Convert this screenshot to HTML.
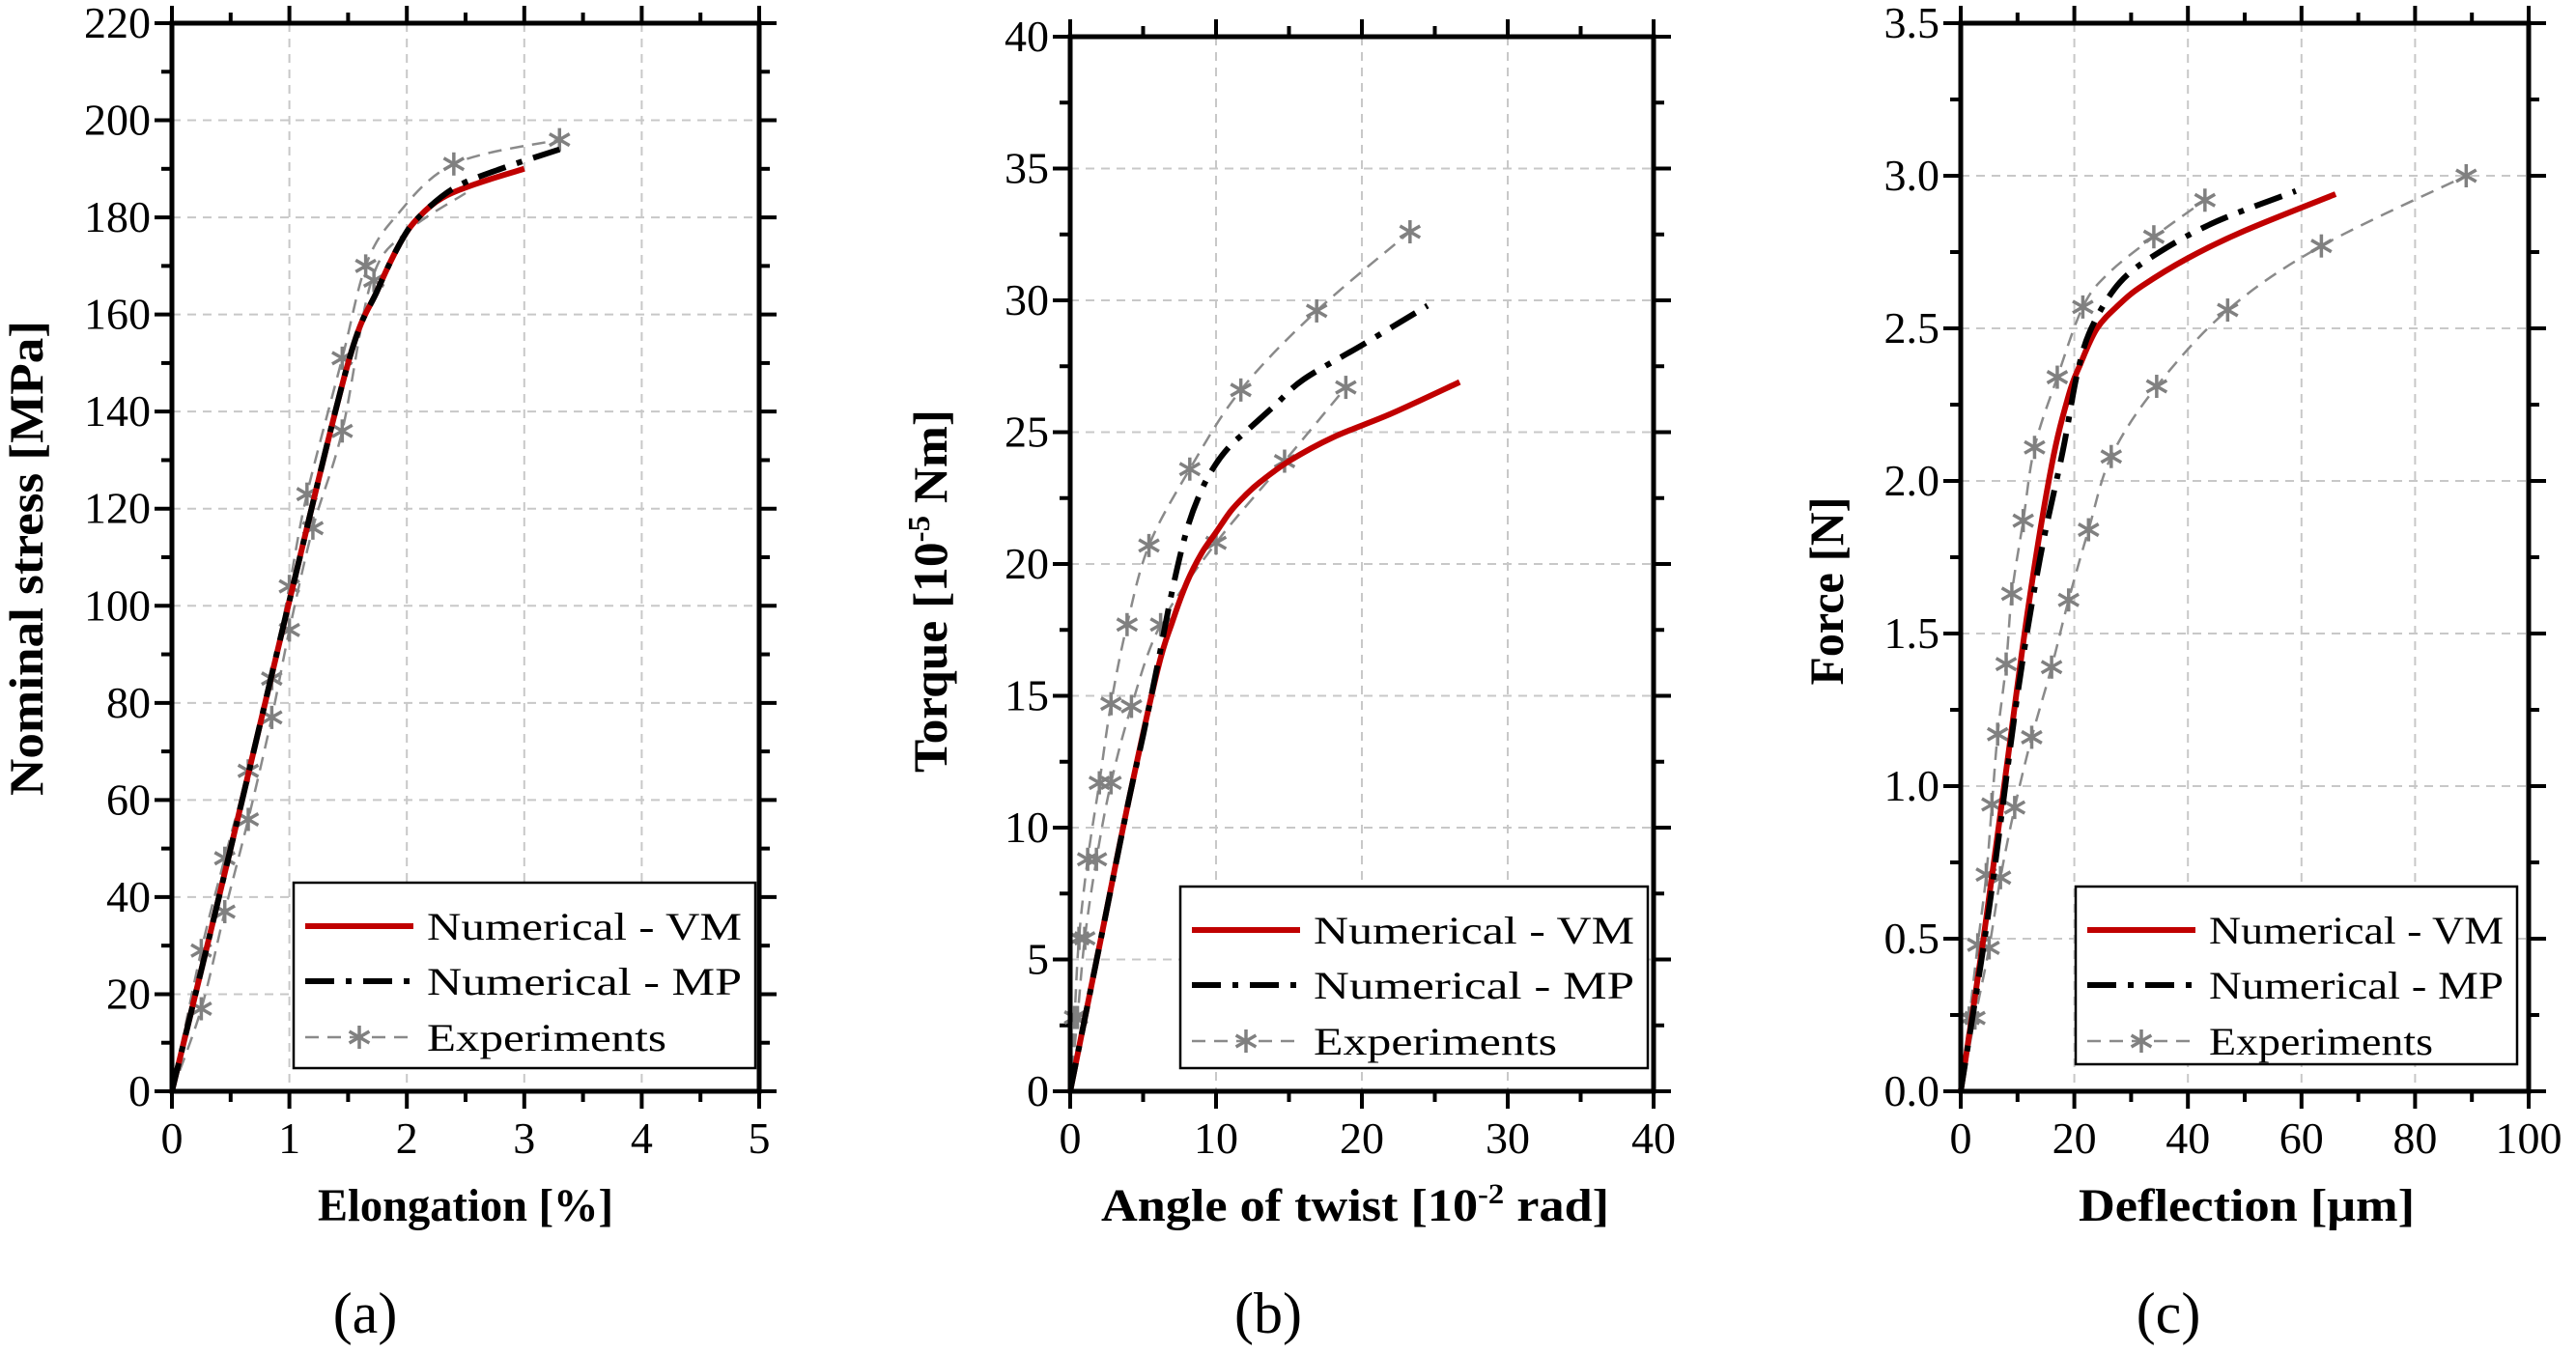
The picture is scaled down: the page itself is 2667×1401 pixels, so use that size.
<!DOCTYPE html>
<html><head><meta charset="utf-8"><style>
html,body{margin:0;padding:0;background:#fff}
svg{display:block}
text{font-family:"Liberation Serif",serif}
</style></head><body>
<svg id="s" width="2667" height="1401" viewBox="0 0 2667 1401" xmlns="http://www.w3.org/2000/svg"></svg>
<script>
const S=document.getElementById('s');let h='';
function smooth(P){let d=`M${P[0][0].toFixed(1)},${P[0][1].toFixed(1)}`;
 for(let i=0;i<P.length-1;i++){const p0=P[Math.max(0,i-1)],p1=P[i],p2=P[i+1],p3=P[Math.min(P.length-1,i+2)];
  const c1=[p1[0]+(p2[0]-p0[0])/6,p1[1]+(p2[1]-p0[1])/6],c2=[p2[0]-(p3[0]-p1[0])/6,p2[1]-(p3[1]-p1[1])/6];
  d+=` C${c1[0].toFixed(1)},${c1[1].toFixed(1)} ${c2[0].toFixed(1)},${c2[1].toFixed(1)} ${p2[0].toFixed(1)},${p2[1].toFixed(1)}`}return d}
function panel(o){
 const {x0,x1,y0,y1,xmin,xmax,ymin,ymax,xt,yt,xminor,yminor,fmtY}=o;
 const X=v=>x0+(v-xmin)/(xmax-xmin)*(x1-x0), Y=v=>y1-(v-ymin)/(ymax-ymin)*(y1-y0);
 xt.forEach(v=>{if(v>xmin&&v<xmax)h+=`<line x1="${X(v)}" y1="${y0}" x2="${X(v)}" y2="${y1}" stroke="#c8c8c8" stroke-width="2" stroke-dasharray="9,7"/>`});
 yt.forEach(v=>{if(v>ymin&&v<ymax)h+=`<line x1="${x0}" y1="${Y(v)}" x2="${x1}" y2="${Y(v)}" stroke="#c8c8c8" stroke-width="2" stroke-dasharray="9,7"/>`});
 xt.forEach(v=>{h+=`<line x1="${X(v)}" y1="${y1}" x2="${X(v)}" y2="${y1+18}" stroke="#000" stroke-width="4"/><line x1="${X(v)}" y1="${y0}" x2="${X(v)}" y2="${y0-18}" stroke="#000" stroke-width="4"/>`;
  h+=`<text x="${X(v)}" y="${y1+64}" font-size="46" text-anchor="middle">${v}</text>`});
 xminor.forEach(v=>{h+=`<line x1="${X(v)}" y1="${y1}" x2="${X(v)}" y2="${y1+11}" stroke="#000" stroke-width="4"/><line x1="${X(v)}" y1="${y0}" x2="${X(v)}" y2="${y0-11}" stroke="#000" stroke-width="4"/>`});
 yt.forEach(v=>{h+=`<line x1="${x0}" y1="${Y(v)}" x2="${x0-18}" y2="${Y(v)}" stroke="#000" stroke-width="4"/><line x1="${x1}" y1="${Y(v)}" x2="${x1+18}" y2="${Y(v)}" stroke="#000" stroke-width="4"/>`;
  h+=`<text x="${x0-22}" y="${Y(v)+15}" font-size="46" text-anchor="end">${fmtY(v)}</text>`});
 yminor.forEach(v=>{h+=`<line x1="${x0}" y1="${Y(v)}" x2="${x0-11}" y2="${Y(v)}" stroke="#000" stroke-width="4"/><line x1="${x1}" y1="${Y(v)}" x2="${x1+11}" y2="${Y(v)}" stroke="#000" stroke-width="4"/>`});
 const pa=(d,a)=>`<path fill="none" d="${smooth(d.map(p=>[X(p[0]),Y(p[1])]))}" ${a}/>`;
 const star=(cx,cy)=>{let s='';for(let i=0;i<3;i++){const a=Math.PI/2+i*Math.PI/3,dx=12*Math.cos(a),dy=12*Math.sin(a);s+=`<line x1="${cx-dx}" y1="${cy-dy}" x2="${cx+dx}" y2="${cy+dy}" stroke="#808080" stroke-width="3.5"/>`}return s};
 o.exp.forEach(d=>{h+=pa([[0,0]].concat(d.pts),'stroke="#8a8a8a" stroke-width="2.5" stroke-dasharray="14,9"');d.m.forEach(p=>h+=star(X(p[0]),Y(p[1])))});
 h+=pa(o.vm,'stroke="#c00000" stroke-width="6" stroke-linejoin="round"');
 h+=pa(o.mp,'stroke="#000" stroke-width="6" stroke-dasharray="30,12,6,12"');
 h+=`<rect x="${x0}" y="${y0}" width="${x1-x0}" height="${y1-y0}" fill="none" stroke="#000" stroke-width="5"/>`;
 const L=o.leg;h+=`<rect x="${L[0]}" y="${L[1]}" width="${L[2]-L[0]}" height="${L[3]-L[1]}" fill="#fff" stroke="#000" stroke-width="2.5"/>`;
 const lx=L[0]+12,tx=L[0]+138,r=[L[1]+45,L[1]+102,L[1]+160];
 h+=`<line x1="${lx}" y1="${r[0]}" x2="${lx+112}" y2="${r[0]}" stroke="#c00000" stroke-width="6"/>`;
 h+=`<line x1="${lx}" y1="${r[1]}" x2="${lx+112}" y2="${r[1]}" stroke="#000" stroke-width="6" stroke-dasharray="30,12,6,12"/>`;
 h+=`<line x1="${lx}" y1="${r[2]}" x2="${lx+112}" y2="${r[2]}" stroke="#8a8a8a" stroke-width="2.5" stroke-dasharray="14,9"/>`+star(lx+56,r[2]);
 ['Numerical - VM','Numerical - MP','Experiments'].forEach((t,i)=>h+=`<text x="${tx}" y="${r[i]+14}" font-size="40" textLength="${L[2]-tx-14}" lengthAdjust="spacingAndGlyphs">${t}</text>`.replace(/textLength="[^"]*"/, i==2?`textLength="${Math.round((L[2]-tx-14)*0.76)}"`:`textLength="${L[2]-tx-14}"`));
}
const rng=(a,b,s)=>{const r=[];for(let v=a;v<=b+1e-9;v+=s)r.push(+v.toFixed(4));return r};
panel({x0:178,x1:786,y0:24,y1:1130,xmin:0,xmax:5,ymin:0,ymax:220,xt:rng(0,5,1),yt:rng(0,220,20),xminor:rng(0.5,4.5,1),yminor:rng(10,210,20),fmtY:v=>v,
 vm:[[0,0],[0.5,50],[1,101],[1.5,150],[1.75,165],[1.95,175],[2.1,180],[2.3,184],[2.6,187],[3.0,190]],
 mp:[[0,0],[0.5,50],[1,101],[1.5,150],[1.75,165],[1.95,175],[2.1,180],[2.4,186],[2.8,190],[3.3,194]],
 exp:[{pts:[[0.25,29],[0.45,48],[0.65,66],[0.85,85],[1.0,104],[1.15,123],[1.45,151],[1.65,170],[1.9,180],[2.4,191],[3.3,196]],m:[[0.25,29],[0.45,48],[0.65,66],[0.85,85],[1.0,104],[1.15,123],[1.45,151],[1.65,170],[2.4,191],[3.3,196]]},
  {pts:[[0.25,17],[0.45,37],[0.65,56],[0.85,77],[1.0,95],[1.2,116],[1.45,136],[1.7,167],[2.0,177],[2.5,185]],m:[[0.25,17],[0.45,37],[0.65,56],[0.85,77],[1.0,95],[1.2,116],[1.45,136],[1.72,167]]}],
 leg:[304,914,782,1106]});
panel({x0:1108,x1:1712,y0:38,y1:1130,xmin:0,xmax:40,ymin:0,ymax:40,xt:rng(0,40,10),yt:rng(0,40,5),xminor:rng(5,35,10),yminor:rng(2.5,37.5,5),fmtY:v=>v,
 vm:[[0,0],[2,5.5],[4,11],[6,16],[7,17.8],[8,19.3],[9,20.4],[10,21.2],[11,22],[12,22.6],[13,23.1],[15,23.9],[18,24.8],[22,25.7],[26.7,26.9]],
 mp:[[0,0],[2,5.5],[4,11],[5,13.5],[6,16.2],[7,19],[8,21.3],[9,22.8],[10,23.8],[11,24.5],[12,25],[14,26],[16,27],[20,28.3],[24.5,29.8]],
 exp:[{pts:[[0.3,2.8],[0.6,5.8],[1.2,8.8],[2,11.7],[2.8,14.7],[3.9,17.7],[5.4,20.7],[8.2,23.6],[11.7,26.6],[16.9,29.6],[23.3,32.6]],m:[[0.3,2.8],[0.6,5.8],[1.2,8.8],[2,11.7],[2.8,14.7],[3.9,17.7],[5.4,20.7],[8.2,23.6],[11.7,26.6],[16.9,29.6],[23.3,32.6]]},
  {pts:[[0.5,2.8],[1.0,5.8],[1.8,8.8],[2.8,11.7],[4.2,14.6],[6.2,17.7],[10,20.8],[14.7,23.9],[18.9,26.7]],m:[[0.5,2.8],[1.0,5.8],[1.8,8.8],[2.8,11.7],[4.2,14.6],[6.2,17.7],[10,20.8],[14.7,23.9],[18.9,26.7]]}],
 leg:[1222,918,1706,1106]});
panel({x0:2030,x1:2618,y0:24,y1:1130,xmin:0,xmax:100,ymin:0,ymax:3.5,xt:rng(0,100,20),yt:rng(0,3.5,0.5),xminor:rng(10,90,20),yminor:rng(0.25,3.25,0.5),fmtY:v=>v.toFixed(1),
 vm:[[0,0],[4,0.5],[8,1.05],[12,1.6],[16,2.05],[19,2.28],[21,2.38],[24,2.5],[28,2.58],[32,2.64],[40,2.73],[50,2.82],[66,2.94]],
 mp:[[0,0],[5,0.6],[10,1.3],[14,1.75],[18,2.1],[20.5,2.35],[23,2.5],[28,2.65],[35,2.75],[45,2.85],[59,2.95]],
 exp:[{pts:[[1.5,0.24],[3,0.48],[4.5,0.71],[5.5,0.94],[6.5,1.17],[8,1.4],[9,1.63],[11,1.87],[13,2.11],[17,2.34],[21.5,2.57],[26,2.68],[34,2.8],[43,2.92]],m:[[1.5,0.24],[3,0.48],[4.5,0.71],[5.5,0.94],[6.5,1.17],[8,1.4],[9,1.63],[11,1.87],[13,2.11],[17,2.34],[21.5,2.57],[34,2.8],[43,2.92]]},
  {pts:[[2.5,0.24],[5,0.47],[7,0.7],[9.5,0.93],[12.5,1.16],[16,1.39],[19,1.61],[22.5,1.84],[26.5,2.08],[34.5,2.31],[47,2.56],[63.5,2.77],[89,3.0]],m:[[2.5,0.24],[5,0.47],[7,0.7],[9.5,0.93],[12.5,1.16],[16,1.39],[19,1.61],[22.5,1.84],[26.5,2.08],[34.5,2.31],[47,2.56],[63.5,2.77],[89,3.0]]}],
 leg:[2149,918,2606,1102]});
h+=`<text x="482" y="1264" font-size="48" font-weight="bold" text-anchor="middle" textLength="306" lengthAdjust="spacingAndGlyphs">Elongation  [%]</text>`;
h+=`<text x="1403" y="1264" font-size="48" font-weight="bold" text-anchor="middle" textLength="526" lengthAdjust="spacingAndGlyphs">Angle of twist  [10<tspan font-size="30" dy="-18">-2</tspan><tspan dy="18"> rad]</tspan></text>`;
h+=`<text x="2326" y="1264" font-size="48" font-weight="bold" text-anchor="middle" textLength="348" lengthAdjust="spacingAndGlyphs">Deflection  [μm]</text>`;
h+=`<text transform="translate(44,578) rotate(-90)" font-size="50" font-weight="bold" text-anchor="middle" textLength="492" lengthAdjust="spacingAndGlyphs">Nominal stress  [MPa]</text>`;
h+=`<text transform="translate(980,612) rotate(-90)" font-size="50" font-weight="bold" text-anchor="middle" textLength="376" lengthAdjust="spacingAndGlyphs">Torque  [10<tspan font-size="32" dy="-18">-5</tspan><tspan dy="18"> Nm]</tspan></text>`;
h+=`<text transform="translate(1908,612) rotate(-90)" font-size="50" font-weight="bold" text-anchor="middle" textLength="195" lengthAdjust="spacingAndGlyphs">Force  [N]</text>`;
[[378,'(a)'],[1313,'(b)'],[2245,'(c)']].forEach(p=>h+=`<text x="${p[0]}" y="1380" font-size="60" text-anchor="middle">${p[1]}</text>`);
S.innerHTML=h;
</script>
</body></html>
